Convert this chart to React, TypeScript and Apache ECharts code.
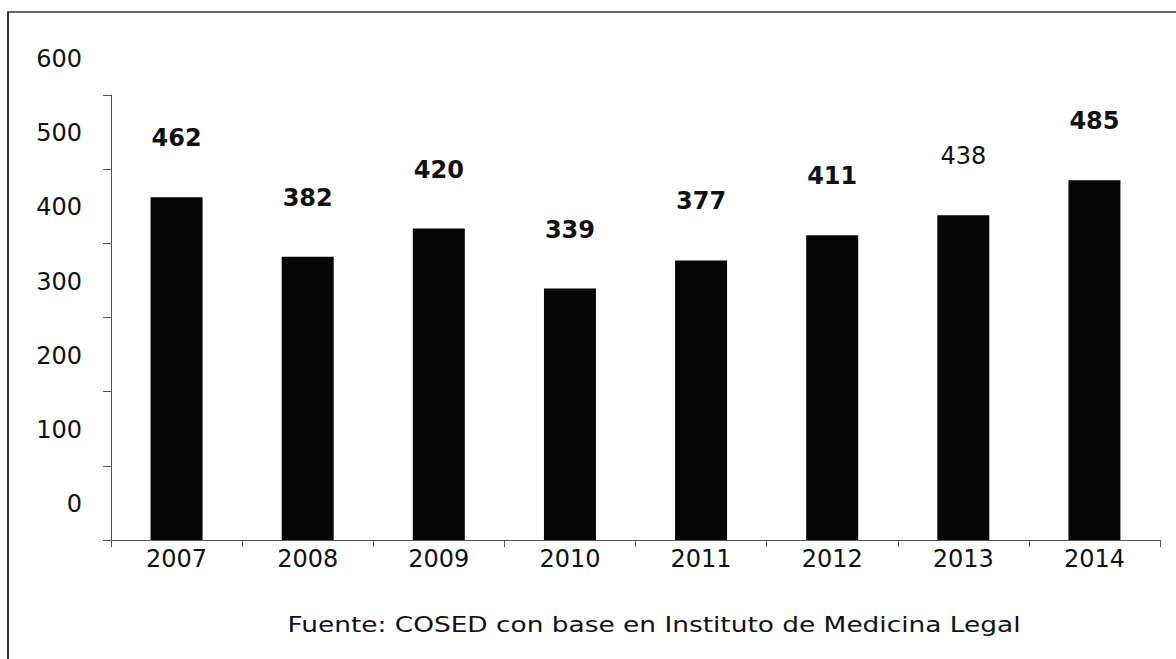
import React, { useEffect, useRef } from "react";
import * as echarts from "echarts";

const years = ["2007", "2008", "2009", "2010", "2011", "2012", "2013", "2014"];
const values = [462, 382, 420, 339, 377, 411, 438, 485];
const lightLabelYears = ["2013"];
const yTicks = { min: 0, max: 600, interval: 100 };
const sourceText = "Fuente: COSED con base en Instituto de Medicina Legal";

export default function App() {
  const ref = useRef<HTMLDivElement>(null);
  useEffect(() => {
    if (!ref.current) return;
    const chart = echarts.init(ref.current, null, { renderer: "svg" });
    const data = values.map((v, i) =>
      lightLabelYears.includes(years[i])
        ? { value: v, label: { fontWeight: "normal" } }
        : v
    );
    chart.setOption({
      animation: false,
      backgroundColor: "#ffffff",
      grid: { left: 111, right: 16, top: 95, bottom: 119, containLabel: false },
      xAxis: {
        type: "category",
        data: years,
        axisLine: { show: true, lineStyle: { color: "#555", width: 1 } },
        axisTick: { show: true, length: 7, lineStyle: { color: "#555" }, alignWithLabel: false },
        axisLabel: {
          color: "#111",
          fontFamily: "DejaVu Sans",
          fontSize: 24,
          margin: 7,
        },
      },
      yAxis: {
        type: "value",
        min: yTicks.min,
        max: yTicks.max,
        interval: yTicks.interval,
        splitLine: { show: false },
        axisLine: { show: true, lineStyle: { color: "#555", width: 1 } },
        axisTick: { show: true, length: 8, lineStyle: { color: "#555" } },
        axisLabel: {
          color: "#111",
          fontFamily: "DejaVu Sans",
          fontSize: 24,
          margin: 29,
          verticalAlign: "bottom",
          lineHeight: 72,
        },
      },
      series: [
        {
          type: "bar",
          data,
          barWidth: 52,
          itemStyle: { color: "#050505" },
          label: {
            show: true,
            position: "top",
            distance: 47,
            color: "#111",
            fontFamily: "DejaVu Sans",
            fontWeight: "bold",
            fontSize: 24,
          },
        },
      ],
      graphic: [
        {
          type: "line",
          shape: { x1: 8, y1: 12, x2: 8, y2: 659 },
          style: { stroke: "#333", lineWidth: 2 },
        },
        {
          type: "line",
          shape: { x1: 7, y1: 12, x2: 1176, y2: 12 },
          style: { stroke: "#333", lineWidth: 1.5 },
        },
        {
          type: "text",
          x: 654,
          y: 624,
          scaleX: 1.2,
          style: {
            text: sourceText,
            fill: "#111",
            fontFamily: "DejaVu Sans",
            fontSize: 22,
            align: "center",
            verticalAlign: "middle",
          },
        },
      ],
    });
    return () => chart.dispose();
  }, []);
  return (
    <div
      ref={ref}
      style={{ position: "fixed", left: 0, top: 0, width: 1176, height: 659 }}
    />
  );
}
